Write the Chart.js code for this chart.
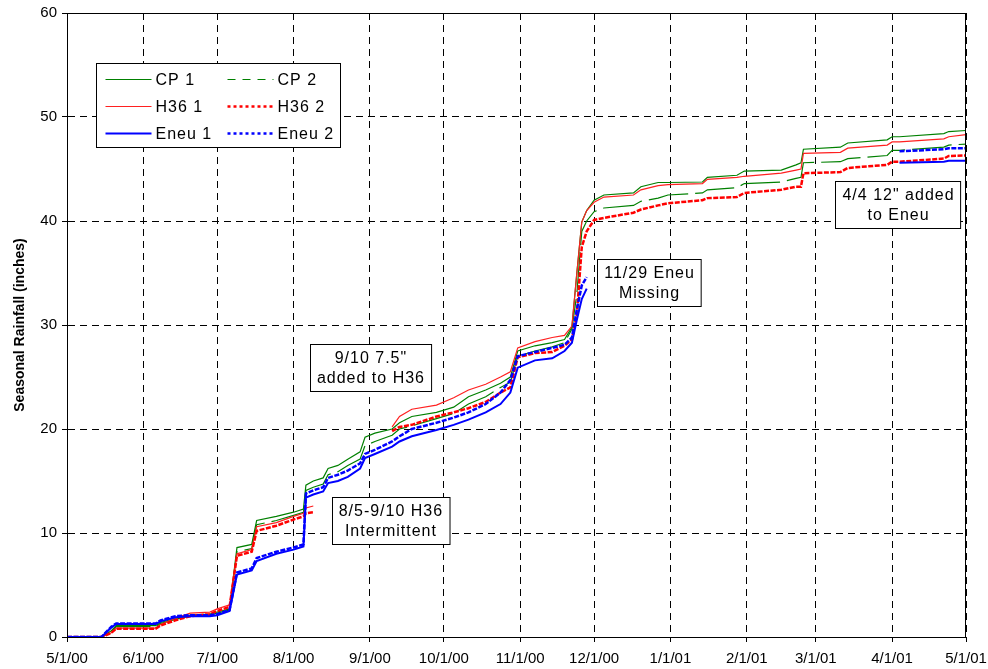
<!DOCTYPE html>
<html>
<head>
<meta charset="utf-8">
<title>Seasonal Rainfall</title>
<script src="https://cdn.jsdelivr.net/npm/chart.js@4.4.1/dist/chart.umd.min.js"></script>
<style>
  html, body { margin: 0; padding: 0; background: #fff; }
</style>
</head>
<body>
<canvas id="rainChart" width="988" height="669"></canvas>
<script>
// days since 5/1/00
const days = [0, 14, 18, 20, 36, 38, 44, 50, 58, 61,
    66, 69, 75, 77, 85, 92, 96, 97, 100, 104,
    106, 110, 114, 119, 121, 125, 132, 135, 140, 150,
    157, 163, 170, 176, 180, 183, 190, 197, 202, 205,
    207, 209, 211, 214, 218, 230, 233, 240, 244, 258,
    260, 272, 275, 290, 296, 298, 299, 314, 317, 333,
    335, 338, 356, 358, 365];

const cp1 = [0, 0, 0.6, 1.1, 1.1, 1.4, 1.8, 2.1, 2.2, 2.4,
    2.7, 8.6, 8.9, 11.2, 11.6, 12.0, 12.3, 14.6, 15.0, 15.3,
    16.2, 16.5, 17.1, 17.8, 19.2, 19.6, 20.0, 20.6, 21.2, 21.6,
    22.1, 23.1, 23.75, 24.4, 25.0, 27.5, 28.0, 28.3, 28.6, 29.8,
    35.0, 39.9, 41.0, 42.0, 42.5, 42.7, 43.3, 43.7, 43.7, 43.75,
    44.2, 44.4, 44.8, 44.9, 45.4, 45.6, 46.9, 47.1, 47.5, 47.8,
    48.1, 48.1, 48.4, 48.6, 48.7];

const cp2 = [0, 0, 0.5, 1.0, 1.0, 1.3, 1.7, 2.0, 2.1, 2.3,
    2.6, 8.2, 8.5, 10.8, 11.2, 11.7, 12.0, 14.1, 14.4, 14.7,
    15.6, 15.9, 16.5, 17.1, 18.4, 18.8, 19.4, 20.0, 20.3, 21.0,
    21.5, 22.4, 23.1, 24.0, 24.5, 27.0, 27.5, 27.9, 28.3, 29.6,
    33.0, 39.0, 40.0, 40.9, 41.25, 41.5, 41.9, 42.2, 42.5, 42.7,
    43.0, 43.2, 43.6, 43.75, 44.1, 44.2, 45.6, 45.7, 46.0, 46.3,
    46.8, 46.8, 47.1, 47.3, 47.4];

const h36a = [0, 0, 0.4, 0.85, 0.85, 1.2, 1.8, 2.3, 2.4, 2.7,
    3.1, 8.0, 8.4, 10.6, 11.0, 11.6, 11.9, 12.4, 12.6, null,
    null, null, null, null, null, null, 20.2, 21.2, 21.9, 22.3,
    23.0, 23.75, 24.3, 25.0, 25.5, 27.8, 28.4, 28.8, 29.0, 29.9,
    35.0, 39.9, 41.0, 41.8, 42.3, 42.5, 43.0, 43.4, 43.5, 43.6,
    44.0, 44.2, 44.3, 44.6, 44.9, 45.0, 46.5, 46.6, 47.0, 47.3,
    47.6, 47.6, 47.9, 48.1, 48.3];

const h36b = [0, 0, 0.4, 0.8, 0.8, 1.1, 1.6, 2.0, 2.2, 2.5,
    2.9, 7.8, 8.2, 10.2, 10.7, 11.3, 11.6, 11.9, 12.0, null,
    null, null, null, null, null, null, 19.8, 20.2, 20.4, 21.2,
    21.6, 22.0, 22.6, 23.5, 24.0, 26.9, 27.3, 27.4, 28.0, 28.6,
    31.0, 37.5, 39.0, 40.1, 40.3, 40.8, 41.1, 41.5, 41.7, 42.0,
    42.2, 42.3, 42.7, 43.0, 43.3, 43.3, 44.6, 44.7, 45.1, 45.4,
    45.7, 45.7, 46.0, 46.25, 46.3];

const eneu1 = [0, 0, 0.9, 1.25, 1.25, 1.5, 1.9, 2.0, 2.0, 2.1,
    2.5, 6.0, 6.4, 7.3, 8.0, 8.4, 8.7, 13.4, 13.7, 14.0,
    14.8, 15.0, 15.4, 16.2, 17.2, 17.6, 18.3, 18.8, 19.3, 19.9,
    20.4, 20.9, 21.6, 22.4, 23.5, 25.9, 26.6, 26.8, 27.5, 28.3,
    30.5, 32.5, 33.5, null, null, null, null, null, null, null,
    null, null, null, null, null, null, null, null, null, null,
    null, 45.6, 45.7, 45.8, 45.8];

const eneu2 = [0, 0, 1.0, 1.3, 1.3, 1.6, 2.0, 2.1, 2.1, 2.2,
    2.6, 6.2, 6.6, 7.6, 8.2, 8.6, 8.9, 13.8, 14.1, 14.4,
    15.3, 15.6, 16.0, 16.7, 17.6, 18.0, 18.8, 19.3, 20.0, 20.6,
    21.1, 21.6, 22.4, 23.5, 24.7, 27.0, 27.4, 27.8, 28.1, 28.8,
    31.5, 33.8, 34.6, null, null, null, null, null, null, null,
    null, null, null, null, null, null, null, null, null, null,
    null, 46.7, 46.9, 47.0, 47.0];

const monthDays = [0, 31, 61, 92, 123, 153, 184, 214, 245, 276, 304, 335, 365];
const monthLabels = ['5/1/00', '6/1/00', '7/1/00', '8/1/00', '9/1/00', '10/1/00', '11/1/00',
    '12/1/00', '1/1/01', '2/1/01', '3/1/01', '4/1/01', '5/1/01'];

// text boxes, anchored at [day, inches]
const notes = [
    { lines: ['9/10 7.5"', 'added to H36'], at: [123.2, 25.9] },
    { lines: ['8/5-9/10 H36', 'Intermittent'], at: [131.3, 11.2] },
    { lines: ['11/29 Eneu', 'Missing'], at: [236.3, 34.1] },
    { lines: ['4/4 12" added', 'to Eneu'], at: [337.4, 41.6] }
];

const FONT = 'Arial, "Liberation Sans", sans-serif';

const series = [
    { label: 'CP 1', values: cp1, color: '#008000', width: 1.2, dash: [], legendDash: [] },
    { label: 'CP 2', values: cp2, color: '#008000', width: 1.2, dash: [40, 7], legendDash: [8, 7] },
    { label: 'H36 1', values: h36a, color: '#ff2020', width: 1.2, dash: [], legendDash: [] },
    { label: 'H36 2', values: h36b, color: '#ff0000', width: 2.5, dash: [5, 1.5], legendDash: [3, 3] },
    { label: 'Eneu 1', values: eneu1, color: '#0000ff', width: 2, dash: [], legendDash: [] },
    { label: 'Eneu 2', values: eneu2, color: '#0000ff', width: 2.5, dash: [5, 1.5], legendDash: [3, 3] }
];

const datasets = series.map((s, i) => ({
    label: s.label,
    data: days.map((d, j) => ({ x: d, y: s.values[j] })),
    borderColor: s.color,
    borderWidth: s.width,
    borderDash: s.dash,
    pointRadius: 0,
    tension: 0,
    spanGaps: false,
    order: series.length - i,
    legendDash: s.legendDash
}));

// frame, legend box and notes
const boxPlugin = {
    id: 'boxes',
    afterDraw(chart) {
        const { ctx, chartArea: a, scales: { x, y } } = chart;
        ctx.save();
        ctx.strokeStyle = '#000';
        ctx.lineWidth = 1;
        ctx.setLineDash([]);
        ctx.strokeRect(Math.round(a.left) + 0.5, Math.round(a.top) + 0.5,
            Math.round(a.right - a.left) - 1, Math.round(a.bottom - a.top));

        // legend
        const lx = Math.round(a.left) + 29.5, ly = Math.round(a.top) + 50.5;
        ctx.fillStyle = '#fff';
        ctx.fillRect(lx, ly, 244, 84);
        ctx.strokeRect(lx, ly, 244, 84);
        ctx.font = '16px ' + FONT;
        ctx.letterSpacing = '1px';
        ctx.textBaseline = 'middle';
        ctx.textAlign = 'left';
        chart.data.datasets.forEach((ds, i) => {
            const col = i % 2, row = Math.floor(i / 2);
            const x0 = lx + (col ? 131 : 9), cy = ly + 16 + row * 27;
            ctx.strokeStyle = ds.borderColor;
            ctx.lineWidth = ds.borderWidth;
            ctx.setLineDash(ds.legendDash);
            ctx.beginPath();
            ctx.moveTo(x0, cy);
            ctx.lineTo(x0 + 46, cy);
            ctx.stroke();
            ctx.fillStyle = '#000';
            ctx.fillText(ds.label, x0 + 50, cy + 1);
        });

        // notes
        ctx.setLineDash([]);
        ctx.lineWidth = 1;
        ctx.strokeStyle = '#000';
        ctx.textAlign = 'center';
        notes.forEach(n => {
            const cx = x.getPixelForValue(n.at[0]), cy = y.getPixelForValue(n.at[1]);
            const w = Math.max(...n.lines.map(t => ctx.measureText(t).width)) + 13;
            const h = 47;
            const bx = Math.round(cx - w / 2) + 0.5, by = Math.round(cy - h / 2) + 0.5;
            ctx.fillStyle = '#fff';
            ctx.fillRect(bx, by, w, h);
            ctx.strokeRect(bx, by, w, h);
            ctx.fillStyle = '#000';
            n.lines.forEach((t, k) => ctx.fillText(t, cx + 0.5, by + 14 + k * 20));
        });
        ctx.restore();
    }
};

const gridOpts = { color: '#000', lineWidth: 1, tickLength: 5, tickColor: '#000', tickBorderDash: [] };
const borderOpts = { color: '#000', width: 1, dash: [7, 5] };

new Chart(document.getElementById('rainChart'), {
    type: 'line',
    data: { datasets },
    options: {
        responsive: false,
        animation: false,
        layout: { padding: { top: 13, right: 22, left: 0, bottom: 0 }, autoPadding: false },
        plugins: { legend: { display: false }, tooltip: { enabled: false } },
        scales: {
            x: {
                type: 'linear',
                min: 0,
                max: 365,
                afterBuildTicks: s => { s.ticks = monthDays.map(v => ({ value: v })); },
                afterFit: s => { s.height = 32; s.paddingLeft = 0; s.paddingRight = 0; },
                ticks: {
                    autoSkip: false,
                    maxRotation: 0,
                    padding: 8,
                    color: '#000',
                    font: { family: FONT, size: 15 },
                    callback: (v, i) => monthLabels[i]
                },
                grid: gridOpts,
                border: borderOpts
            },
            y: {
                min: 0,
                max: 60,
                afterFit: s => { s.width = 67; s.paddingTop = 0; s.paddingBottom = 0; },
                ticks: { stepSize: 10, padding: 5, color: '#000', font: { family: FONT, size: 15 } },
                grid: gridOpts,
                border: borderOpts,
                title: {
                    display: true,
                    text: 'Seasonal Rainfall (inches)',
                    color: '#000',
                    font: { family: FONT, size: 14, weight: 'bold' },
                    padding: { top: 12, bottom: 0 }
                }
            }
        }
    },
    plugins: [boxPlugin]
});
</script>
</body>
</html>
